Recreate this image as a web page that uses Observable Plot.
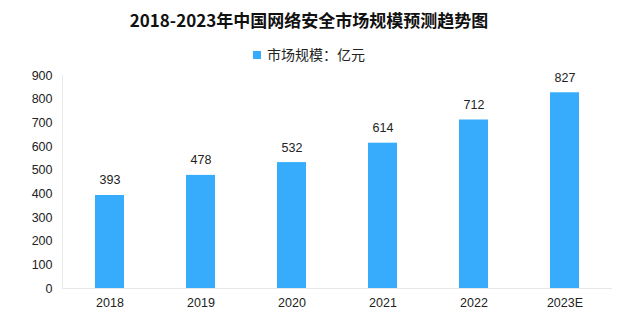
<!DOCTYPE html>
<html><head><meta charset="utf-8">
<script src="https://cdn.jsdelivr.net/npm/d3@7"></script>
<script src="https://cdn.jsdelivr.net/npm/@observablehq/plot@0.6"></script>
<style>
body{margin:0;background:#fff;font-family:"Noto Sans CJK SC",sans-serif;}
#title{height:40px;line-height:40px;text-align:center;font-size:17px;font-weight:bold;color:#111;}
#legend{height:28px;line-height:28px;text-align:center;font-size:14px;color:#222;}
#legend span.sw{display:inline-block;width:8px;height:8px;background:#38acfc;margin-right:6px;vertical-align:1px;}
</style></head>
<body>
<div id="title">2018-2023年中国网络安全市场规模预测趋势图</div>
<div id="legend"><span class="sw"></span>市场规模：亿元</div>
<div id="chart"></div>
<script>
const years = ["2018","2019","2020","2021","2022","2023E"];
const values = [393,478,532,614,712,827];
const yTicks = [0,100,200,300,400,500,600,700,800,900];
const data = years.map((y,i)=>({year:y,value:values[i]}));
const F = "'Liberation Sans',Arial,sans-serif";
const chart = Plot.plot({
  width:618, height:256,
  marginTop:7, marginBottom:36, marginLeft:62, marginRight:6,
  style:{fontFamily:F,fontSize:"12px",color:"#222",background:"#fff"},
  x:{domain:years, paddingInner:0.68, paddingOuter:0.36, label:null},
  y:{domain:[0,900], label:null},
  marks:[
    Plot.axisY({ticks:yTicks, tickSize:0, tickPadding:10, label:null, fontSize:12.5, fontFamily:F, fill:"#222"}),
    Plot.axisX({tickSize:0, tickPadding:10, label:null, fontSize:12.5, fontFamily:F, fill:"#222"}),
    Plot.frame({anchor:"left", stroke:"#e8e8e8"}),
    Plot.ruleY([0],{stroke:"#e8e8e8"}),
    Plot.barY(data,{x:"year",y:"value",fill:"#38acfc"}),
    Plot.text(data,{x:"year",y:"value",text:d=>String(d.value),dy:-15,fontSize:12.5,fill:"#222",fontFamily:F})
  ]
});
document.getElementById("chart").appendChild(chart);
</script>
</body></html>
